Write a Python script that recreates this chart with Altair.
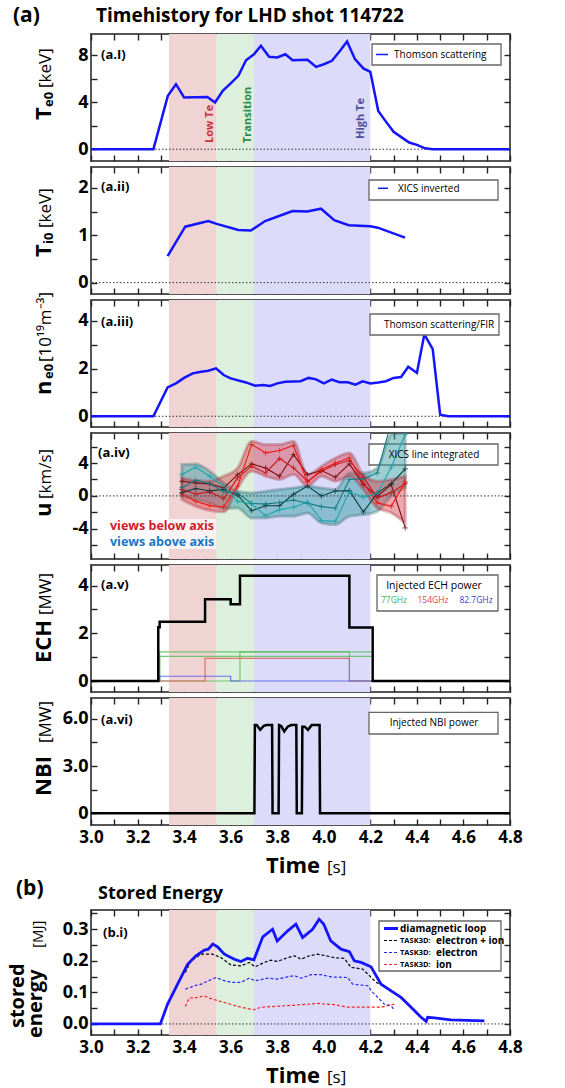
import altair as alt
import pandas as pd

FONT = "Open Sans"
W = 419
X_DOM = [3.0, 4.8]
X_TICKS = [3.0, 3.1, 3.2, 3.3, 3.4, 3.5, 3.6, 3.7, 3.8, 3.9, 4.0, 4.1, 4.2, 4.3, 4.4, 4.5, 4.6, 4.7, 4.8]
X_LABELS = ['3.0', '', '3.2', '', '3.4', '', '3.6', '', '3.8', '', '4.0', '', '4.2', '', '4.4', '', '4.6', '', '4.8']

# shaded phases
REG_START = [3.335, 3.54, 3.70]
REG_END = [3.54, 3.70, 4.20]
REG_FILL = ['#f0d4d4', '#dcf0dd', '#dcdcfa']

# (a.i) Te0
TE_T = [3.0, 3.268, 3.33, 3.365, 3.40, 3.50, 3.533, 3.566, 3.60, 3.633, 3.666, 3.70, 3.73, 3.765, 3.80, 3.835,
        3.866, 3.93, 3.967, 4.00, 4.035, 4.07, 4.10, 4.134, 4.17, 4.20, 4.234, 4.267, 4.30, 4.336, 4.367, 4.40,
        4.435, 4.467, 4.8]
TE_V = [0, 0, 4.54, 5.53, 4.4, 4.45, 3.97, 4.96, 5.6, 6.24, 7.57, 8.08, 8.8, 7.86, 7.8, 8.08,
        7.57, 7.6, 7.0, 7.23, 7.52, 8.37, 9.16, 7.66, 6.87, 6.58, 3.26, 2.35, 1.48, 0.99, 0.57, 0.37,
        0.08, 0, 0]

# (a.ii) Ti0
TI_T = [3.329, 3.405, 3.504, 3.54, 3.633, 3.687, 3.748, 3.805, 3.866, 3.928, 3.988, 4.045, 4.107, 4.20, 4.232, 4.349]
TI_V = [0.56, 1.18, 1.30, 1.24, 1.11, 1.10, 1.30, 1.40, 1.51, 1.50, 1.56, 1.32, 1.21, 1.19, 1.16, 0.95]

# (a.iii) ne0
NE_T = [3.0, 3.268, 3.329, 3.365, 3.40, 3.437, 3.473, 3.504, 3.537, 3.57, 3.60, 3.666, 3.705, 3.737, 3.77,
        3.80, 3.835, 3.90, 3.935, 3.967, 4.0, 4.034, 4.067, 4.103, 4.136, 4.167, 4.20, 4.234, 4.267, 4.30,
        4.332, 4.363, 4.40, 4.432, 4.468, 4.50, 4.535, 4.8]
NE_V = [0, 0, 1.21, 1.38, 1.61, 1.80, 1.87, 1.91, 2.01, 1.73, 1.59, 1.42, 1.28, 1.31, 1.27,
        1.38, 1.45, 1.47, 1.61, 1.55, 1.38, 1.54, 1.43, 1.43, 1.33, 1.47, 1.38, 1.42, 1.47, 1.61,
        1.65, 2.08, 1.82, 3.44, 2.82, 0.07, 0, 0]

# (a.iv) rotation velocity u
U_T = [3.39, 3.45, 3.51, 3.57, 3.63, 3.69, 3.75, 3.81, 3.87, 3.93, 3.99, 4.05, 4.11, 4.17, 4.23, 4.29, 4.35]
U_R1 = [0.24, -0.65, -1.18, -1.34, 1.18, 6.26, 5.24, 5.53, 6.14, 1.67, 3.21, 4.02, 4.63, 1.59, -0.85, -1.26, 1.71]
U_R2 = [0.77, 0.24, 0.49, -0.33, 2.2, 3.62, 2.8, 4.55, 3.41, 1.79, 3.0, 3.82, 4.31, 2.28, -0.24, 0.4, 1.5]
U_R3 = [1.79, 1.59, 1.46, 0.98, 2.6, 3.9, 3.41, 2.4, 5.04, 2.6, 3.09, 2.28, 3.9, 1.38, -0.04, 1.38, -3.9]
U_C1 = [2.6, 3.5, 2.4, 1.2, -0.65, -0.98, -2.4, -1.67, -1.38, -0.73, -3.0, -3.1, 0.5, -0.16, 0.3, 3.5, 7.5]
U_C2 = [1.0, 1.9, 1.5, 0.5, 0.3, -0.9, -1.0, -0.8, -0.5, -0.9, -1.3, -1.5, 2.0, 2.1, 2.8, 9.0, 9.0]
U_C3 = [0.4, 0.9, 0.6, 0.8, 0.1, -1.8, -1.2, -1.2, 0.2, 1.2, 0.0, 0.6, 0.65, -1.96, 0.37, 1.5, 3.3]
U_RED_LO = [-0.45, -1.26, -1.79, -1.95, 0.98, 3.0, 2.4, 2.0, 2.6, 1.18, 2.4, 1.79, 2.4, 0.77, -1.46, -2.07, -3.3]
U_RED_HI = [2.2, 1.87, 1.79, 2.4, 3.41, 6.67, 6.26, 6.26, 6.67, 2.6, 3.62, 4.63, 5.24, 2.6, 1.79, 2.0, 2.4]
U_TEAL_LO = [-0.04, -0.45, -0.85, -1.54, -1.46, -2.68, -2.68, -2.48, -2.48, -2.07, -3.3, -3.5, -2.48, -2.28, -1.87, -0.04, 0.98]
U_TEAL_HI = [3.82, 3.9, 3.0, 1.59, 0.57, 0.37, 0.57, 0.77, 0.98, 1.18, 0.98, 0.77, 2.8, 2.8, 3.41, 7.48, 7.68]

# (a.v) ECH power (step-after)
ECH_T = [3.0, 3.289, 3.295, 3.49, 3.60, 3.64, 4.11, 4.21, 4.8]
ECH_V = [0.0, 2.25, 2.48, 3.43, 3.22, 4.41, 2.24, 0.0, 0.0]
G1_T, G1_V = [3.0, 3.295, 4.21, 4.8], [0, 1.22, 0, 0]
G2_T, G2_V = [3.0, 3.295, 4.21, 4.8], [0, 1.03, 0, 0]
G3_T, G3_V = [3.0, 3.64, 4.11, 4.8], [0, 1.22, 0, 0]
F154_T, F154_V = [3.0, 3.49, 4.11, 4.8], [0, 0.95, 0, 0]
F827_T, F827_V = [3.0, 3.295, 3.60, 4.8], [0, 0.2, 0, 0]

# (a.vi) NBI power
NBI_T = [3.0, 3.702, 3.704, 3.712, 3.727, 3.742, 3.755, 3.778, 3.780, 3.806, 3.808, 3.817, 3.830, 3.845,
         3.860, 3.882, 3.884, 3.906, 3.908, 3.918, 3.932, 3.948, 3.982, 3.984, 4.8]
NBI_V = [0, 0, 5.6, 5.6, 5.3, 5.55, 5.6, 5.6, 0, 0, 5.6, 5.55, 5.2, 5.5,
         5.6, 5.6, 0, 0, 5.5, 5.5, 5.3, 5.6, 5.6, 0, 0]

# (b.i) stored energy
WD_T = [3.0, 3.298, 3.329, 3.372, 3.415, 3.451, 3.487, 3.504, 3.523, 3.544, 3.573, 3.616, 3.644, 3.673, 3.70,
        3.738, 3.78, 3.80, 3.845, 3.88, 3.909, 3.952, 3.98, 4.0, 4.03, 4.074, 4.11, 4.131, 4.16, 4.203, 4.246,
        4.289, 4.332, 4.375, 4.418, 4.44, 4.446, 4.475, 4.546, 4.69]
WD_V = [0.0, 0.0, 0.063, 0.126, 0.189, 0.216, 0.234, 0.237, 0.253, 0.244, 0.221, 0.205, 0.198, 0.208, 0.203,
        0.276, 0.30, 0.263, 0.295, 0.316, 0.274, 0.30, 0.332, 0.316, 0.263, 0.237, 0.229, 0.20, 0.195, 0.181,
        0.126, 0.105, 0.084, 0.053, 0.021, 0.008, 0.021, 0.019, 0.013, 0.0095]
WT_T = [3.405, 3.43, 3.473, 3.523, 3.559, 3.601, 3.644, 3.68, 3.705, 3.745, 3.773, 3.80, 3.845, 3.874, 3.902,
        3.938, 3.974, 4.01, 4.045, 4.088, 4.117, 4.167, 4.196, 4.224, 4.26, 4.303]
WT_V = [0.163, 0.20, 0.221, 0.221, 0.21, 0.187, 0.184, 0.195, 0.181, 0.195, 0.202, 0.198, 0.21, 0.216, 0.205,
        0.216, 0.221, 0.216, 0.21, 0.208, 0.179, 0.174, 0.153, 0.132, 0.121, 0.10]
WE_T = [3.405, 3.444, 3.473, 3.504, 3.537, 3.566, 3.601, 3.644, 3.68, 3.705, 3.759, 3.80, 3.845, 3.874, 3.902,
        3.945, 3.988, 4.031, 4.103, 4.124, 4.189, 4.21, 4.232, 4.26, 4.289, 4.303]
WE_V = [0.11, 0.121, 0.126, 0.137, 0.147, 0.139, 0.132, 0.132, 0.145, 0.137, 0.145, 0.142, 0.149, 0.153, 0.145,
        0.156, 0.156, 0.149, 0.147, 0.126, 0.121, 0.10, 0.084, 0.063, 0.058, 0.044]
WI_T = [3.405, 3.422, 3.458, 3.487, 3.508, 3.544, 3.587, 3.644, 3.70, 3.73, 3.80, 3.902, 3.974, 4.045, 4.103,
        4.189, 4.246, 4.303]
WI_V = [0.055, 0.082, 0.084, 0.089, 0.082, 0.074, 0.065, 0.053, 0.045, 0.053, 0.056, 0.061, 0.065, 0.061, 0.053,
        0.053, 0.053, 0.063]

ONE = pd.DataFrame({'k': [0]})
XS = alt.Scale(domain=X_DOM, nice=False, zero=False)
TICK = 6


def X(f='t'):
    return alt.X(f + ':Q', scale=XS, axis=None)


def Y(dom, f='v'):
    return alt.Y(f + ':Q', scale=alt.Scale(domain=dom, nice=False, zero=False), axis=None)


def lexpr(vals, labs):
    e = "''"
    for v, l in reversed(list(zip(vals, labs))):
        if l:
            e = "datum.value === %r ? '%s' : (%s)" % (v, l, e)
    return e


def axes(ydom, yvals, ylabs, xlabels=False):
    df = pd.DataFrame({'t': [3.0], 'v': [ydom[0]]})
    ys = alt.Scale(domain=ydom, nice=False, zero=False)
    tick = dict(ticks=True, tickSize=TICK, offset=-TICK, tickColor='#222', tickWidth=1.4, domain=False,
                grid=False, title=None, labelOverlap=False, labelFlush=False)
    lab = dict(labelFont=FONT, labelFontWeight='bold', labelColor='black')
    a1 = alt.Chart(df).mark_point(opacity=0).encode(
        x=alt.X('t:Q', scale=XS, axis=alt.Axis(orient='bottom', values=X_TICKS, labels=xlabels,
                                                labelExpr=lexpr(X_TICKS, X_LABELS), labelFontSize=17,
                                                labelPadding=4, **tick, **lab)),
        y=alt.Y('v:Q', scale=ys, axis=alt.Axis(orient='left', values=yvals, labelExpr=lexpr(yvals, ylabs),
                                               labelFontSize=18, labelPadding=3, **tick, **lab)))
    a2 = alt.Chart(df).mark_point(opacity=0).encode(
        x=alt.X('t:Q', scale=XS, axis=alt.Axis(orient='top', values=X_TICKS, labels=False, **tick)),
        y=alt.Y('v:Q', scale=ys, axis=alt.Axis(orient='right', values=yvals, labels=False, **tick)))
    return [a1, a2]


def TXT(s, x, y, size, weight='normal', color='black', angle=0, align='left', baseline='middle'):
    return alt.Chart(ONE).mark_text(text=s, font=FONT, fontSize=size, fontWeight=weight, color=color,
                                    angle=angle, align=align, baseline=baseline).encode(
        x=alt.value(x), y=alt.value(y))


def ROT(s, x, y, size, weight='normal', color='black'):
    return TXT(s, x, y, size, weight, color, angle=270, align='left', baseline='alphabetic')


def BOX(x1, y1, x2, y2, fill='white', stroke='#666', opacity=1.0, sw=1.3):
    return alt.Chart(ONE).mark_rect(fill=fill, stroke=stroke, strokeWidth=sw, fillOpacity=opacity).encode(
        x=alt.value(x1), x2=alt.value(x2), y=alt.value(y1), y2=alt.value(y2))


def SEG(x1, x2, y, color, width, dash=None):
    kw = {} if dash is None else {'strokeDash': dash}
    return alt.Chart(ONE).mark_rule(color=color, strokeWidth=width, **kw).encode(
        x=alt.value(x1), x2=alt.value(x2), y=alt.value(y))


def regions(H):
    df = pd.DataFrame({'s': REG_START, 'e': REG_END, 'c': REG_FILL})
    return alt.Chart(df).mark_rect().encode(x=X('s'), x2=alt.X2('e'), y=alt.value(0), y2=alt.value(H),
                                            color=alt.Color('c:N', scale=None))


def zero(dom):
    return alt.Chart(pd.DataFrame({'v': [0.0]})).mark_rule(color='#333', strokeWidth=1, strokeDash=[1.5, 2]).encode(
        y=Y(dom))


def line(t, v, dom, color, width, **kw):
    return alt.Chart(pd.DataFrame({'t': t, 'v': v})).mark_line(color=color, strokeWidth=width, **kw).encode(
        x=X(), y=Y(dom))


def panel(layers, H):
    return alt.layer(*layers).resolve_axis(x='independent', y='independent').properties(width=W, height=H)


BLUE = '#1414ff'

# ---- (a.i)
H1, D1 = 127, [-1.0, 9.8]
p1 = panel([
    regions(H1), zero(D1),
    line(TE_T, TE_V, D1, BLUE, 2.5),
    ROT('Low Te', 122, 109, 11, 'bold', '#c8343a'),
    ROT('Transition', 160, 109, 11, 'bold', '#2e8b45'),
    ROT('High Te', 273, 105, 11, 'bold', '#5050a0'),
    TXT('(a.I)', 10, 21, 13, 'bold'),
    BOX(281, 10, 410, 31), SEG(285, 297, 20.5, BLUE, 1.5),
    TXT('Thomson scattering', 303, 21, 10),
    ROT('T', -40, 86, 22, 'bold'), ROT('e0', -38, 73, 13, 'bold'), ROT('[keV]', -40, 54, 17),
    TXT('(a)', -78, -18, 21, 'bold'),
    TXT('Timehistory for LHD shot 114722', 5, -18, 19, 'bold'),
    alt.Chart(ONE).mark_rule(strokeOpacity=0, strokeWidth=0.1).encode(
        x=alt.value(-90), x2=alt.value(-89), y=alt.value(-33)),
] + axes(D1, [0, 2, 4, 6, 8], ['0', '', '4', '', '8']), H1)

# ---- (a.ii)
H2, D2 = 127, [-0.24, 2.44]
p2 = panel([
    regions(H2), zero(D2),
    line(TI_T, TI_V, D2, BLUE, 2.5),
    TXT('(a.ii)', 10, 20, 13, 'bold'),
    BOX(278, 13, 407, 33), SEG(287, 297, 21.3, BLUE, 1.5),
    TXT('XICS inverted', 307, 22, 10),
    ROT('T', -40, 90, 22, 'bold'), ROT('i0', -38, 77, 13, 'bold'), ROT('[keV]', -40, 61, 17),
] + axes(D2, [0, 0.5, 1, 1.5, 2], ['0', '', '1', '', '2']), H2)

# ---- (a.iii)
H3, D3 = 127, [-0.45, 4.88]
p3 = panel([
    regions(H3), zero(D3),
    line(NE_T, NE_V, D3, BLUE, 2.5),
    TXT('(a.iii)', 10, 22, 13, 'bold'),
    BOX(279, 14, 408, 35),
    TXT('Thomson scattering/FIR', 348, 24.5, 10, align='center'),
    ROT('n', -40, 95, 22, 'bold'), ROT('e0', -38, 79, 13, 'bold'), ROT('[10\u00b9\u2079m\u207b\u00b3]', -40, 62, 17),
] + axes(D3, [0, 1, 2, 3, 4], ['0', '', '2', '', '4']), H3)

# ---- (a.iv)
H4, D4 = 126, [-7.68, 7.66]
u_rows = []
for name, vals, col in [('R3', U_R3, '#7a0c10'), ('R2', U_R2, '#c8141c'), ('R1', U_R1, '#f01818'),
                        ('C3', U_C3, '#0c3c3e'), ('C2', U_C2, '#137a7c'), ('C1', U_C1, '#1aa6aa')]:
    for t, v in zip(U_T, vals):
        u_rows.append({'t': t, 'v': v, 's': name, 'c': col})
U_DF = pd.DataFrame(u_rows)
band_df = pd.DataFrame({'t': U_T, 'rlo': U_RED_LO, 'rhi': U_RED_HI, 'clo': U_TEAL_LO, 'chi': U_TEAL_HI})
teal_band = alt.Chart(band_df).mark_area(interpolate='monotone', color='#3a9ea5', fillOpacity=0.5, stroke='#3d6a70',
                                         strokeOpacity=0.35, strokeWidth=3, clip=True).encode(
    x=X(), y=Y(D4, 'clo'), y2=alt.Y2('chi'))
red_band = alt.Chart(band_df).mark_area(interpolate='monotone', color='#d8404c', fillOpacity=0.45, stroke='#a02030',
                                        strokeOpacity=0.3, strokeWidth=3, clip=True).encode(
    x=X(), y=Y(D4, 'rlo'), y2=alt.Y2('rhi'))
u_lines = alt.Chart(U_DF).mark_line(strokeWidth=1.1, clip=True).encode(
    x=X(), y=Y(D4), color=alt.Color('c:N', scale=None), detail='s:N')
u_pts = alt.Chart(U_DF).mark_point(shape='M-1,0L1,0M0,-1L0,1', size=30, strokeWidth=1, filled=False, clip=True).encode(
    x=X(), y=Y(D4), color=alt.Color('c:N', scale=None))
p4 = panel([
    regions(H4),
    BOX(278, 11, 407, 32, opacity=0.9),
    teal_band, red_band, zero(D4), u_lines, u_pts,
    TXT('XICS line integrated', 343, 22, 10, align='center'),
    TXT('(a.iv)', 7, 19.5, 13, 'bold'),
    BOX(17, 86, 125, 116, stroke=None, opacity=0.7, sw=0),
    TXT('views below axis', 19, 93, 12.5, 'bold', '#d0202a'),
    TXT('views above axis', 19, 108.5, 12.5, 'bold', '#1478c8'),
    ROT('u', -40, 84, 22, 'bold'), ROT('[km/s]', -40, 66, 17),
] + axes(D4, [-6, -4, -2, 0, 2, 4, 6], ['', '-4', '', '0', '', '4', '']), H4)

# ---- (a.v)
H5, D5 = 127, [-0.46, 4.86]
p5 = panel([
    regions(H5),
    line(G1_T, G1_V, D5, '#5cbf5c', 1.2, interpolate='step-after', opacity=0.85),
    line(G2_T, G2_V, D5, '#5cbf5c', 1.2, interpolate='step-after', opacity=0.85),
    line(G3_T, G3_V, D5, '#5cbf5c', 1.2, interpolate='step-after', opacity=0.85),
    line(F154_T, F154_V, D5, '#e05a5a', 1.2, interpolate='step-after', opacity=0.85),
    line(F827_T, F827_V, D5, '#5a5af0', 1.2, interpolate='step-after', opacity=0.85),
    line(ECH_T, ECH_V, D5, 'black', 2.5, interpolate='step-after'),
    TXT('(a.v)', 10, 20, 13, 'bold'),
    BOX(286, 10, 407, 46),
    TXT('Injected ECH power', 343, 20.7, 10.5, align='center'),
    TXT('77GHz', 303, 35, 8.5, color='#4caf50', align='center'),
    TXT('154GHz', 342, 35, 8.5, color='#d64545', align='center'),
    TXT('82.7GHz', 385, 35, 8.5, color='#3b3bdb', align='center'),
    ROT('ECH', -40, 98, 22, 'bold'), ROT('[MW]', -40, 50, 17),
] + axes(D5, [0, 1, 2, 3, 4], ['0', '', '2', '', '4']), H5)

# ---- (a.vi)
H6, D6 = 127, [-0.74, 7.32]
p6 = panel([
    regions(H6),
    line(NBI_T, NBI_V, D6, 'black', 2.5),
    TXT('(a.vi)', 10, 22, 13, 'bold'),
    BOX(278, 14.4, 407, 36),
    TXT('Injected NBI power', 343, 25.4, 10, align='center'),
    ROT('NBI', -40, 98, 22, 'bold'), ROT('[MW]', -40, 45, 17),
    TXT('Time', 229, H6 + 48, 22, 'bold', align='right', baseline='alphabetic'),
    TXT('[s]', 236, H6 + 48, 17, align='left', baseline='alphabetic'),
] + axes(D6, [0, 1.5, 3, 4.5, 6], ['0', '', '3.0', '', '6.0'], xlabels=True), H6)

# ---- spacer between (a) and (b)
spacer = alt.Chart(ONE).mark_point(opacity=0).encode(
    x=alt.value(0), y=alt.value(0)).properties(width=W, height=73, view=alt.ViewBackground(strokeOpacity=0, strokeWidth=0))

# ---- (b.i)
HB, DB = 125, [-0.035, 0.361]
pb = panel([
    regions(HB), zero(DB),
    line(WT_T, WT_V, DB, 'black', 1.2, strokeDash=[3, 2]),
    line(WE_T, WE_V, DB, '#2626ee', 1.2, strokeDash=[3, 2]),
    line(WI_T, WI_V, DB, '#ee2626', 1.2, strokeDash=[3, 2]),
    line(WD_T, WD_V, DB, BLUE, 2.8),
    TXT('(b.i)', 12, 22.7, 13, 'bold'),
    BOX(288, 11, 410, 61),
    SEG(293, 307, 18.5, BLUE, 3),
    TXT('diamagnetic loop', 309, 18.5, 10, 'bold'),
    SEG(293, 307, 30.5, 'black', 1.2, [3, 2]),
    TXT('TASK3D:', 309, 30.5, 7.5, 'bold'), TXT('electron + ion', 345, 30.5, 10, 'bold'),
    SEG(293, 307, 42.5, '#2626ee', 1.2, [3, 2]),
    TXT('TASK3D:', 309, 42.5, 7.5, 'bold'), TXT('electron', 345, 42.5, 10, 'bold'),
    SEG(293, 307, 54.5, '#ee2626', 1.2, [3, 2]),
    TXT('TASK3D:', 309, 54.5, 7.5, 'bold'), TXT('ion', 345, 54.5, 10, 'bold'),
    TXT('(b)', -75, -20.7, 21, 'bold'),
    TXT('Stored Energy', 7, -16, 18, 'bold'),
    ROT('stored', -67, 118, 20, 'bold'),
    ROT('energy', -49, 128, 20, 'bold'), ROT('[MJ]', -48, 38, 15),
    TXT('Time', 229, HB + 48, 22, 'bold', align='right', baseline='alphabetic'),
    TXT('[s]', 236, HB + 48, 17, align='left', baseline='alphabetic'),
] + axes(DB, [0, 0.05, 0.1, 0.15, 0.2, 0.25, 0.3, 0.35], ['0.0', '', '0.1', '', '0.2', '', '0.3', ''], xlabels=True), HB)

chart = alt.vconcat(p1, p2, p3, p4, p5, p6, spacer, pb, spacing=6, bounds='flush').properties(
    padding={'left': 0, 'top': 0, 'right': 5, 'bottom': 5}
).configure_view(stroke='#555', strokeWidth=2)

chart.save("out.html", embed_options={"renderer": "svg", "actions": False})
